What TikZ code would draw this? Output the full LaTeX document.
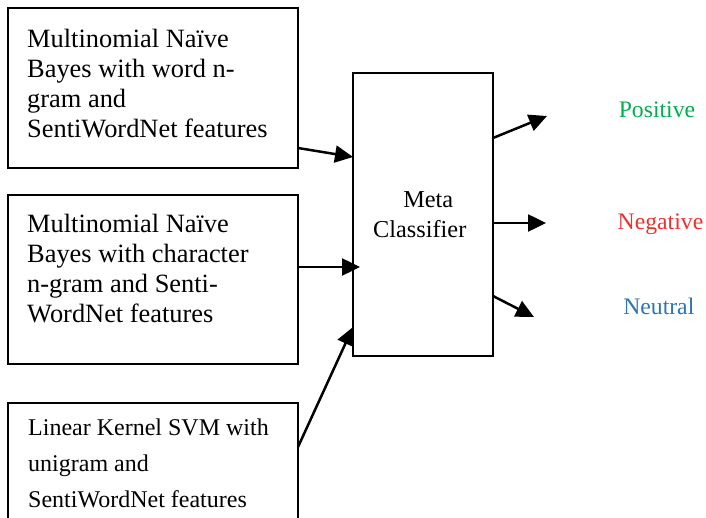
\documentclass[tikz,border=0pt]{standalone}
\usepackage{fontspec}
\setmainfont{Liberation Serif}
\usetikzlibrary{arrows.meta}
\definecolor{posgreen}{RGB}{0,176,80}
\definecolor{negred}{RGB}{232,52,48}
\definecolor{neublue}{RGB}{46,117,182}
\begin{document}
\begin{tikzpicture}[x=1pt,y=-1pt,
  boxstyle/.style={draw=black,line width=1.5pt,rectangle,inner sep=0pt,outer sep=0pt},
  bigtext/.style={anchor=north west,inner sep=0pt,align=left,font=\fontsize{26.4}{30}\selectfont},
  smalltext/.style={anchor=north west,inner sep=0pt,align=left,font=\fontsize{24}{36}\selectfont},
  labeltext/.style={anchor=base,inner sep=0pt,font=\fontsize{23.7}{28}\selectfont},
  conn/.style={line width=2.5pt,-{Triangle[length=18pt,width=17pt]}}
]
\clip (0,0) rectangle (706,518);
\fill[white] (0,0) rectangle (706,518);

\node[boxstyle,minimum width=290pt,minimum height=160pt] (b1) at (153,88) {};
\node[boxstyle,minimum width=290pt,minimum height=169pt] (b2) at (153,279.5) {};
\node[boxstyle,minimum width=290pt,minimum height=137pt] (b3) at (153,471.5) {};
\node[boxstyle,minimum width=140pt,minimum height=283pt] (meta) at (423,214.5) {};

\node[bigtext] (t1) at (27,28.5) {Multinomial Naïve\\Bayes with word n-\\gram and\\SentiWordNet features};
\node[bigtext] (t2) at (27,213.5) {Multinomial Naïve\\Bayes with character\\n-gram and Senti-\\WordNet features};
\node[smalltext] (t3) at (28,418.5) {Linear Kernel SVM with\\unigram and\\SentiWordNet features};
\node[anchor=north west,inner sep=0pt,align=center,font=\fontsize{24.3}{30}\selectfont] (mt) at (373,191.5) {\hspace*{17pt}Meta\\Classifier};

\node[labeltext,text=posgreen] (pos) at (657,118) {Positive};
\node[labeltext,text=negred] (neg) at (660.5,230) {Negative};
\node[labeltext,text=neublue] (neu) at (658.8,314) {Neutral};

\draw[conn] ([yshift=20pt]b1.south east) -- ([yshift=57.5pt]meta.west);
\draw[conn] ([yshift=12.5pt]b2.east) -- ([xshift=7pt,yshift=-52.5pt]meta.west);
\draw[conn] ([yshift=-44pt]b3.north east) -- ([yshift=29pt]meta.south west);

\draw[conn] ([yshift=-65pt]meta.north east) -- ++(54,-22);
\draw[conn] ([yshift=-8.5pt]meta.east) -- ++(53,0);
\draw[conn] ([yshift=60pt]meta.south east) -- ++(41,21);
\end{tikzpicture}
\end{document}
